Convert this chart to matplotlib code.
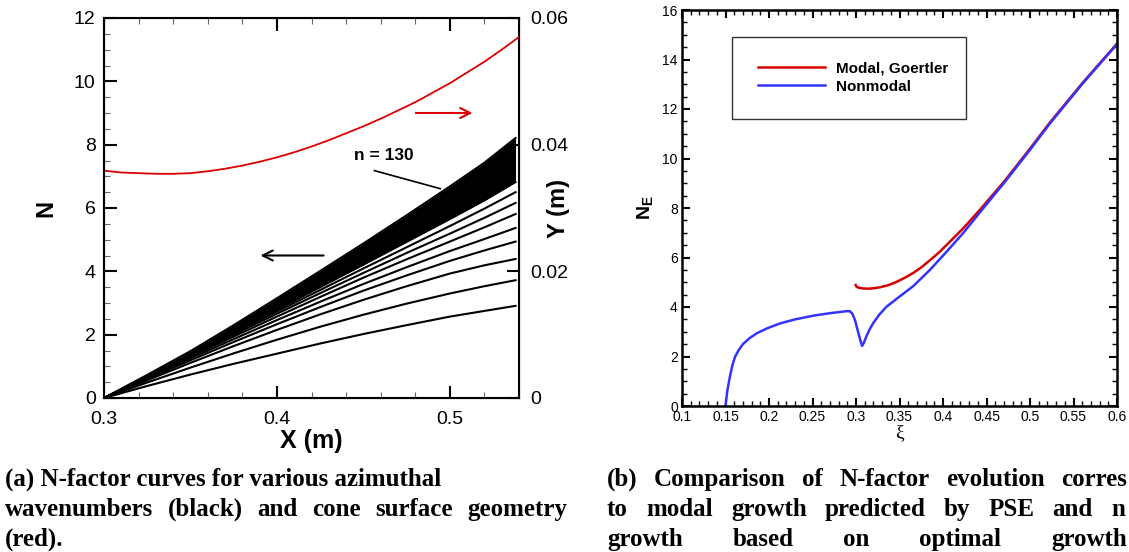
import matplotlib
matplotlib.use('Agg')
import matplotlib.pyplot as plt
from matplotlib.ticker import MultipleLocator, FixedLocator

plt.rcParams['font.family'] = ['Liberation Sans', 'DejaVu Sans']
plt.rcParams['mathtext.fontset'] = 'custom'
plt.rcParams['mathtext.rm'] = 'Liberation Sans'
plt.rcParams['mathtext.bf'] = 'Liberation Sans:bold'

# ---- (a) N-factor curves along the cone, read at stations
x_sta = [0.300, 0.325, 0.350, 0.375, 0.400, 0.425, 0.450, 0.475, 0.500, 0.520, 0.538]
n_curves = [
    [0.0, 0.38, 0.74, 1.08, 1.40, 1.72, 2.02, 2.30, 2.57, 2.75, 2.91],
    [0.0, 0.49, 0.96, 1.41, 1.84, 2.25, 2.63, 2.98, 3.30, 3.53, 3.72],
    [0.0, 0.56, 1.11, 1.64, 2.15, 2.64, 3.10, 3.53, 3.93, 4.19, 4.39],
    [0.0, 0.60, 1.19, 1.77, 2.33, 2.87, 3.39, 3.87, 4.33, 4.66, 4.94],
    [0.0, 0.63, 1.25, 1.86, 2.46, 3.04, 3.60, 4.13, 4.64, 5.02, 5.37],
    [0.0, 0.65, 1.30, 1.94, 2.57, 3.19, 3.80, 4.38, 4.94, 5.39, 5.81],
    [0.0, 0.67, 1.34, 2.00, 2.66, 3.31, 3.95, 4.58, 5.19, 5.69, 6.16],
    [0.0, 0.68, 1.37, 2.05, 2.73, 3.41, 4.09, 4.76, 5.43, 5.98, 6.50],
]
# dense bundle of higher wavenumbers, bounded by its lowest member and n = 130
band_low = [0.0, 0.69, 1.39, 2.09, 2.79, 3.50, 4.21, 4.93, 5.65, 6.24, 6.82]
band_top = [0.0, 0.73, 1.48, 2.30, 3.15, 4.01, 4.88, 5.77, 6.68, 7.43, 8.21]

# cone surface geometry (right axis)
x_cone = [0.30, 0.31, 0.32, 0.33, 0.34, 0.35, 0.36, 0.37, 0.38, 0.39, 0.40, 0.41, 0.42,
          0.43, 0.44, 0.45, 0.46, 0.47, 0.48, 0.49, 0.50, 0.51, 0.52, 0.53, 0.54]
y_cone = [0.0359, 0.0356, 0.0355, 0.0354, 0.0354, 0.0355, 0.0358, 0.0362, 0.0367,
          0.0373, 0.0380, 0.0388, 0.0397, 0.0407, 0.0418, 0.0429, 0.0441, 0.0454,
          0.0467, 0.0482, 0.0497, 0.0514, 0.0531, 0.0550, 0.0570]

# ---- (b) modal vs nonmodal N-factor
xi_modal = [0.2996, 0.3005, 0.303, 0.308, 0.314, 0.321, 0.328, 0.337, 0.347,
            0.356, 0.366, 0.375, 0.385, 0.395, 0.404, 0.423, 0.443, 0.471,
            0.500, 0.523, 0.561, 0.600]
ne_modal = [4.89, 4.82, 4.78, 4.75, 4.74, 4.76, 4.80, 4.88, 5.02,
            5.18, 5.38, 5.60, 5.89, 6.19, 6.50, 7.17, 7.95, 9.10,
            10.40, 11.46, 13.08, 14.64]
xi_nonmodal = [0.150, 0.152, 0.155, 0.158, 0.161, 0.165, 0.170, 0.178, 0.186,
               0.198, 0.213, 0.230, 0.251, 0.270, 0.289, 0.293, 0.296, 0.299,
               0.302, 0.305, 0.307, 0.309, 0.312, 0.316, 0.320, 0.327, 0.335,
               0.350, 0.366, 0.385, 0.404, 0.423, 0.443, 0.471, 0.500, 0.523,
               0.561, 0.600]
ne_nonmodal = [0.0, 0.60, 1.18, 1.65, 1.99, 2.25, 2.50, 2.75, 2.94,
               3.14, 3.34, 3.50, 3.65, 3.75, 3.83, 3.83, 3.72, 3.45,
               3.05, 2.65, 2.43, 2.55, 2.82, 3.12, 3.36, 3.70, 4.01,
               4.42, 4.85, 5.50, 6.23, 6.98, 7.85, 9.05, 10.35, 11.42,
               13.05, 14.62]

W, H = 1129, 552
fig = plt.figure(figsize=(W / 100, H / 100), dpi=100)

def box(l, t, r, b):
    return [l / W, 1 - b / H, (r - l) / W, (b - t) / H]

# ================= panel (a)
ax1 = fig.add_axes(box(104, 18, 519, 398))
ax1.fill_between(x_sta, band_low, band_top, color='black', lw=0)
for nc in n_curves:
    ax1.plot(x_sta, nc, color='black', lw=1.5)
ax1.plot(x_sta, band_low, color='black', lw=1.5)
ax1.plot(x_sta, band_top, color='black', lw=1.5)

ax1.set_xlim(0.3, 0.54)
ax1.set_ylim(0, 12)
ax1.xaxis.set_major_locator(FixedLocator([0.3, 0.4, 0.5]))
ax1.xaxis.set_minor_locator(MultipleLocator(0.02))
ax1.yaxis.set_major_locator(MultipleLocator(2))
ax1.yaxis.set_minor_locator(MultipleLocator(0.5))
ax1.set_xticklabels(['0.3', '0.4', '0.5'])
ax1.tick_params(which='both', direction='in', top=True, right=True)
ax1.tick_params(which='major', length=9, width=1.5, labelsize=14)
ax1.tick_params(axis='x', which='major', pad=9)
ax1.tick_params(axis='y', which='major', pad=6)
ax1.tick_params(which='minor', length=4.5, width=0.8, color='#666666')
for sp in ax1.spines.values():
    sp.set_linewidth(1.5)
ax1.set_xlabel('X (m)', fontsize=18, fontweight='bold', labelpad=1)
ax1.set_ylabel('N', fontsize=17, fontweight='bold', labelpad=12)

ax1.text(0.4616, 7.65, 'n = 130', fontsize=12.5, fontweight='bold',
         ha='center', va='center')
ax1.plot([0.4564, 0.4945], [7.18, 6.61], color='black', lw=1.2)
ax1.annotate('', xy=(0.3889, 4.5), xytext=(0.4286, 4.5),
             arrowprops=dict(arrowstyle='->', color='black', lw=1.5,
                             mutation_scale=18))
ax1.annotate('', xy=(0.5147, 9.0), xytext=(0.4787, 9.0),
             arrowprops=dict(arrowstyle='->', color='#dd0000', lw=1.5,
                             mutation_scale=18))

ax1b = ax1.twinx()
ax1b.plot(x_cone, y_cone, color='#dd0000', lw=1.3)
ax1b.set_ylim(0, 0.06)
ax1b.yaxis.set_major_locator(FixedLocator([0, 0.02, 0.04, 0.06]))
ax1b.set_yticklabels(['0', '0.02', '0.04', '0.06'])
ax1b.tick_params(which='major', direction='in', length=9, width=1.5,
                 labelsize=14, pad=8)
ax1b.set_ylabel('Y (m)', fontsize=17, fontweight='bold')
ax1b.yaxis.set_label_coords(1.067, 0.5)

# ================= panel (b)
ax2 = fig.add_axes(box(682, 10, 1117, 406))
ax2.plot(xi_modal, ne_modal, color='#d40000', lw=1.8, label='Modal, Goertler')
ax2.plot(xi_nonmodal, ne_nonmodal, color='#3333ff', lw=1.8, label='Nonmodal')
ax2.set_xlim(0.1, 0.6)
ax2.set_ylim(0, 16)
ax2.xaxis.set_major_locator(MultipleLocator(0.05))
ax2.xaxis.set_minor_locator(MultipleLocator(0.01))
ax2.yaxis.set_major_locator(MultipleLocator(2))
ax2.yaxis.set_minor_locator(MultipleLocator(0.5))
ax2.xaxis.set_major_formatter(plt.FuncFormatter(lambda v, p: '%g' % round(v, 3)))
ax2.tick_params(which='both', direction='in', top=True, right=True)
ax2.tick_params(which='major', length=6, width=1.5, labelsize=10, pad=3)
ax2.tick_params(which='minor', length=3.5, width=1.0)
for sp in ax2.spines.values():
    sp.set_linewidth(1.8)
ax2.set_xlabel('\u03be', fontsize=14, family='Liberation Serif', labelpad=0)
ax2.set_ylabel(r'$\mathbf{N_E}$', fontsize=14, labelpad=5)

leg = ax2.legend(loc='upper left', bbox_to_anchor=(0.116, 0.735, 0.537, 0.198),
                 mode='expand', prop={'weight': 'bold', 'size': 11},
                 frameon=True, fancybox=False, framealpha=1,
                 edgecolor='#333333', borderpad=1.65, handlelength=4.4,
                 handletextpad=0.75, labelspacing=0.25, borderaxespad=0)
leg.get_frame().set_linewidth(1.0)

# ================= captions
cap = dict(fontsize=18, fontweight='bold', family='Liberation Serif',
           va='baseline', ha='left')
renderer = fig.canvas.get_renderer()

def justify(words, x0, x1, y):
    # spread the words of one caption line between x0 and x1 (pixels)
    objs = [fig.text(0, 1 - y / H, w, **cap) for w in words]
    widths = [t.get_window_extent(renderer).width for t in objs]
    gap = (x1 - x0 - sum(widths)) / (len(words) - 1)
    x = x0
    for t, w in zip(objs, widths):
        t.set_x(x / W)
        x += w + gap

fig.text(5 / W, 1 - 486 / H, '(a) N-factor curves for various azimuthal', **cap)
justify('wavenumbers (black) and cone surface geometry'.split(), 5, 567, 516)
fig.text(5 / W, 1 - 546 / H, '(red).', **cap)
justify('(b) Comparison of N-factor evolution corres'.split(), 607, 1127, 486)
justify('to modal growth predicted by PSE and n'.split(), 607, 1125, 516)
justify('growth based on optimal growth'.split(), 607, 1127, 546)

fig.savefig('out.png', dpi=100)
